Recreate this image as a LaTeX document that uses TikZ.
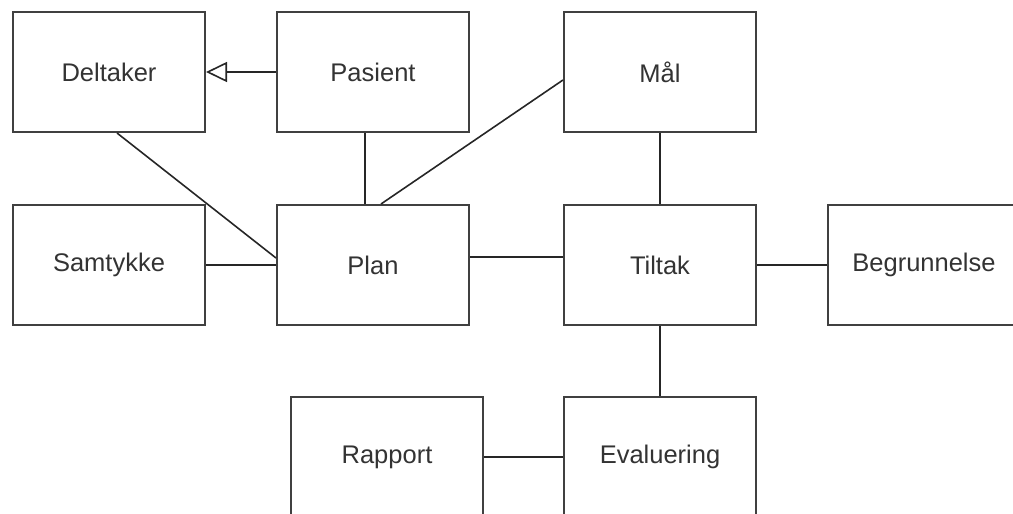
\documentclass[tikz,border=0pt]{standalone}
\usepackage{fontspec}
\setmainfont{Liberation Sans}
\usetikzlibrary{arrows.meta}
\begin{document}
\begin{tikzpicture}[x=1pt,y=-1pt,
  entity/.style={draw=black!75, line width=2pt, fill=white,
    minimum width=192pt, minimum height=120pt, inner sep=0pt,
    font=\fontsize{25.5}{30}\selectfont, text=black!80},
  link/.style={draw=black!85, line width=1.6pt},
  generalise/.style={link, -{Triangle[open, length=21pt, width=20pt, line width=1.6pt]}}]
\useasboundingbox (0,0) rectangle (1013,514);
\clip (0,0) rectangle (1013,514);
% entities
\node[entity] (deltaker)    at (109,72)  {Deltaker};
\node[entity] (pasient)     at (373,72)  {Pasient};
\node[entity] (maal)        at (660,72)  {Mål};
\node[entity] (samtykke)    at (109,265) {Samtykke};
\node[entity] (plan)        at (373,265) {Plan};
\node[entity] (tiltak)      at (660,265) {Tiltak};
\node[entity] (begrunnelse) at (924,265) {Begrunnelse};
\node[entity] (rapport)     at (387,457) {Rapport};
\node[entity] (evaluering)  at (660,457) {Evaluering};
% relations
\draw[generalise] (pasient.west) -- (deltaker.east);
\draw[link] ([xshift=8pt]deltaker.south) -- ([yshift=7pt]plan.west);
\draw[link] ([xshift=-8pt]pasient.south) -- ([xshift=-8pt]pasient.south |- plan.north);
\draw[link] ([yshift=-8pt]maal.west) -- ([xshift=8pt]plan.north);
\draw[link] (samtykke.east) -- (plan.west);
\draw[link] ([yshift=8pt]plan.east) -- ([yshift=8pt]plan.east -| tiltak.west);
\draw[link] (maal.south) -- (tiltak.north);
\draw[link] (tiltak.east) -- (begrunnelse.west);
\draw[link] (tiltak.south) -- (evaluering.north);
\draw[link] (rapport.east) -- (evaluering.west);
\end{tikzpicture}
\end{document}
